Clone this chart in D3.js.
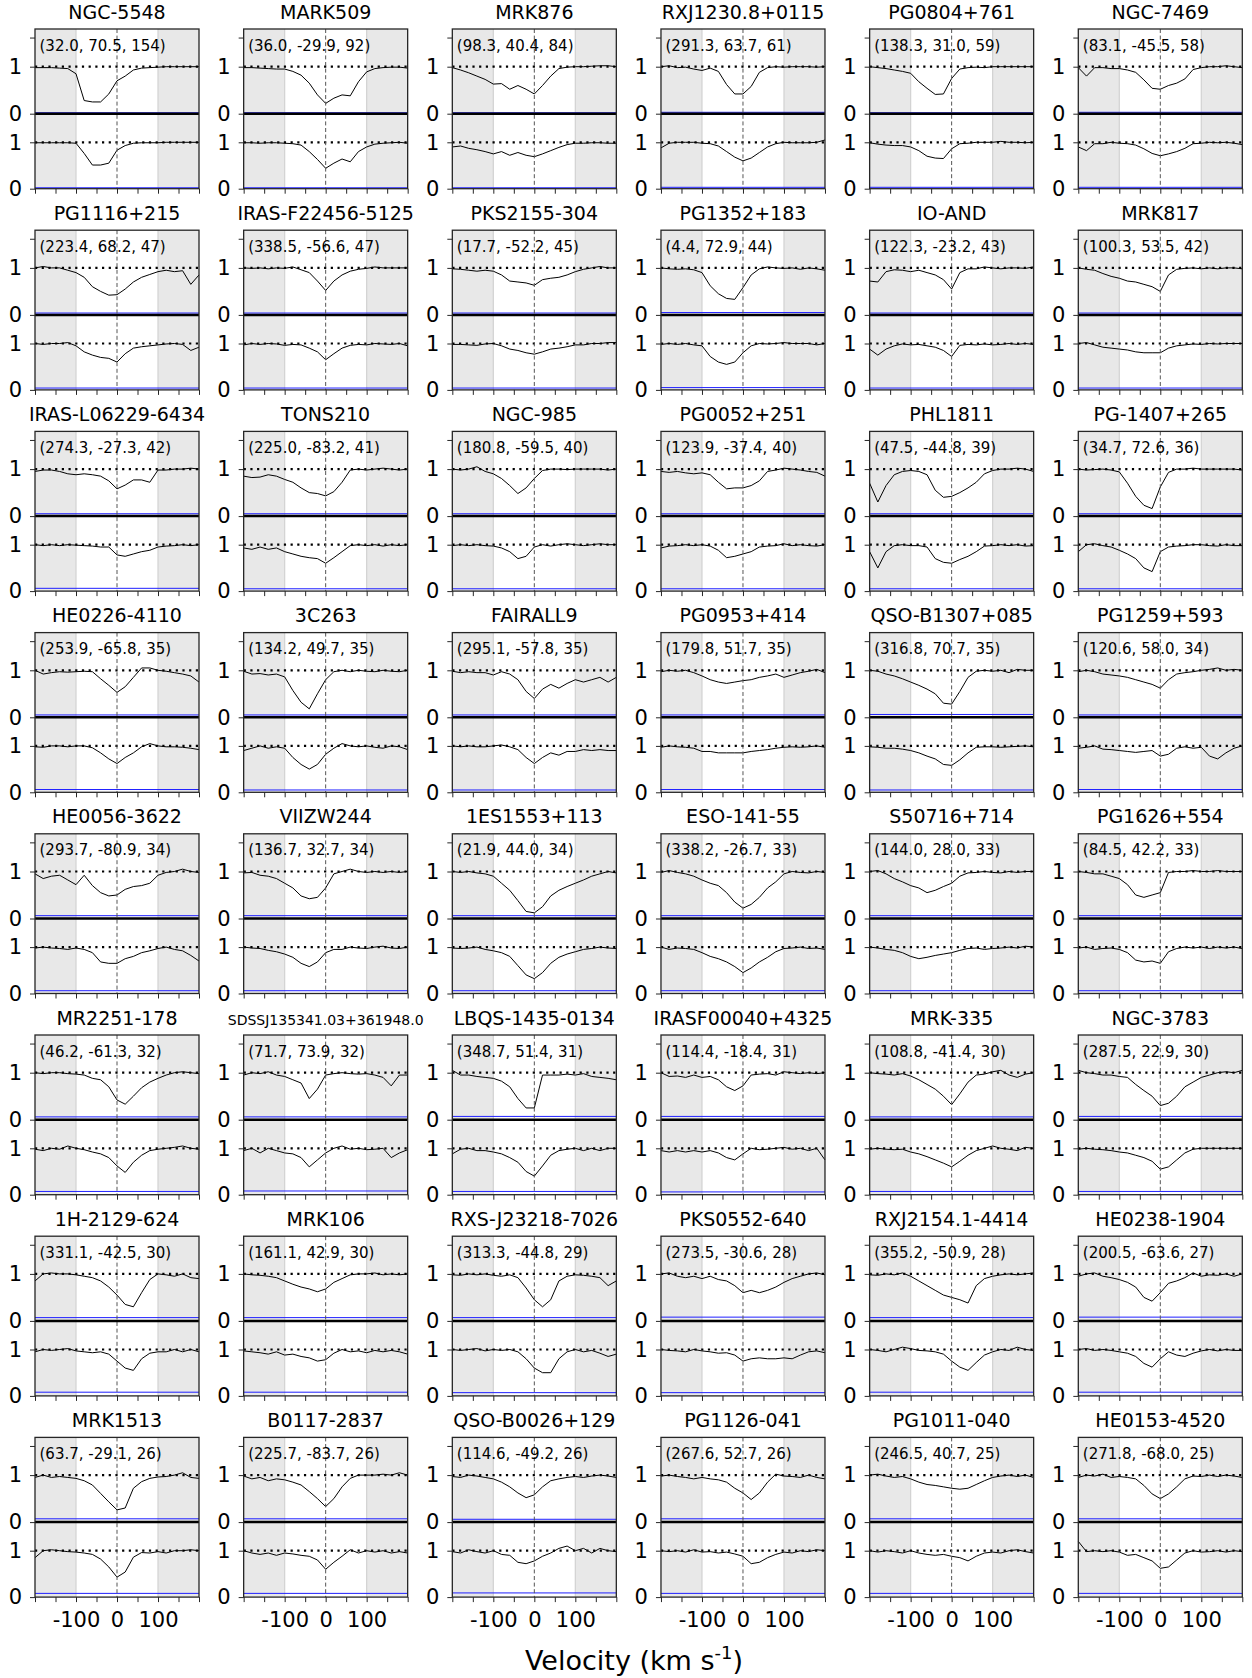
<!DOCTYPE html>
<html>
<head>
<meta charset="utf-8">
<script src="https://cdn.jsdelivr.net/npm/d3@7"></script>
<style>
  body { margin: 0; background: #fff; }
  text { font-family: "DejaVu Sans", sans-serif; }
</style>
</head>
<body>
<svg id="chart" width="1252" height="1678"></svg>
<script>
// velocity grid the profiles were read on (km/s)
const vel = [-200,-180,-160,-140,-120,-100,-80,-60,-40,-20,0,20,40,60,80,100,120,140,160,180,200];
const xTicks = [-200,-150,-100,-50,0,50,100,150,200];
const xLabelled = [-100, 0, 100];

const names = [
  "NGC-5548","MARK509","MRK876","RXJ1230.8+0115","PG0804+761","NGC-7469",
  "PG1116+215","IRAS-F22456-5125","PKS2155-304","PG1352+183","IO-AND","MRK817",
  "IRAS-L06229-6434","TONS210","NGC-985","PG0052+251","PHL1811","PG-1407+265",
  "HE0226-4110","3C263","FAIRALL9","PG0953+414","QSO-B1307+085","PG1259+593",
  "HE0056-3622","VIIZW244","1ES1553+113","ESO-141-55","S50716+714","PG1626+554",
  "MR2251-178","SDSSJ135341.03+361948.0","LBQS-1435-0134","IRASF00040+4325","MRK-335","NGC-3783",
  "1H-2129-624","MRK106","RXS-J23218-7026","PKS0552-640","RXJ2154.1-4414","HE0238-1904",
  "MRK1513","B0117-2837","QSO-B0026+129","PG1126-041","PG1011-040","HE0153-4520"
];
const galL = [32.0,36.0,98.3,291.3,138.3,83.1, 223.4,338.5,17.7,4.4,122.3,100.3,
  274.3,225.0,180.8,123.9,47.5,34.7, 253.9,134.2,295.1,179.8,316.8,120.6,
  293.7,136.7,21.9,338.2,144.0,84.5, 46.2,71.7,348.7,114.4,108.8,287.5,
  331.1,161.1,313.3,273.5,355.2,200.5, 63.7,225.7,114.6,267.6,246.5,271.8];
const galB = [70.5,-29.9,40.4,63.7,31.0,-45.5, 68.2,-56.6,-52.2,72.9,-23.2,53.5,
  -27.3,-83.2,-59.5,-37.4,-44.8,72.6, -65.8,49.7,-57.8,51.7,70.7,58.0,
  -80.9,32.7,44.0,-26.7,28.0,42.2, -61.3,73.9,51.4,-18.4,-41.4,22.9,
  -42.5,42.9,-44.8,-30.6,-50.9,-63.6, -29.1,-83.7,-49.2,52.7,40.7,-68.0];
const nSight = [154,92,84,61,59,58, 47,47,45,44,43,42, 42,41,40,40,39,36, 35,35,35,35,35,34,
  34,34,34,33,33,33, 32,32,31,31,30,30, 30,30,29,28,28,27, 26,26,26,26,25,25];

// normalised flux, upper spectrum of each panel
const fluxUpper = [
  [0.98,0.98,0.98,0.97,0.96,0.85,0.28,0.25,0.25,0.42,0.7,0.8,0.93,0.97,0.98,0.99,1,1,1,1,1],
  [0.98,0.98,0.97,0.96,0.95,0.95,0.9,0.82,0.65,0.4,0.22,0.33,0.4,0.38,0.68,0.89,0.96,0.98,0.99,0.99,0.97],
  [0.98,0.93,0.87,0.8,0.73,0.63,0.64,0.52,0.6,0.52,0.42,0.6,0.8,0.96,0.99,1.0,1.0,1.01,1.02,1.02,1.0],
  [1.0,1.02,0.98,0.99,0.95,0.92,0.97,0.9,0.62,0.42,0.42,0.58,0.88,0.98,1.0,0.99,1.0,1.0,1.0,0.99,1.0],
  [1.0,0.98,0.96,0.93,0.9,0.86,0.68,0.54,0.41,0.42,0.75,0.95,0.98,0.99,0.98,1.0,1.0,1.0,1.0,1.0,1.0],
  [0.98,0.8,0.98,0.98,0.96,0.96,0.93,0.88,0.72,0.54,0.52,0.6,0.65,0.74,0.94,0.98,1.0,1.0,1.02,1.0,0.98],
  [1.0,1.03,1.0,1.0,0.95,0.9,0.8,0.6,0.5,0.42,0.43,0.55,0.7,0.8,0.86,0.92,0.95,0.92,0.94,0.65,0.85],
  [1.0,0.99,1.0,0.98,1.0,0.99,1.02,0.96,0.9,0.72,0.52,0.72,0.85,0.93,0.97,0.99,1.02,1.0,1.0,1.0,1.0],
  [0.98,0.97,0.95,0.93,0.95,0.93,0.85,0.72,0.7,0.68,0.63,0.75,0.78,0.8,0.85,0.92,0.97,1.0,1.03,1.0,1.0],
  [1.0,0.98,0.97,0.98,0.96,0.9,0.62,0.45,0.35,0.33,0.58,0.85,0.98,1.02,1.0,0.99,1.0,0.97,1.0,0.98,0.95],
  [0.72,0.7,0.92,0.96,0.95,0.92,0.95,0.9,0.85,0.75,0.55,0.9,0.98,0.98,1.02,1.0,0.98,1.0,1.0,0.99,1.02],
  [1.0,0.97,0.95,0.88,0.82,0.78,0.72,0.7,0.65,0.6,0.5,0.85,0.97,0.99,1.0,0.98,1.0,0.98,1.0,1.0,0.98],
  [0.95,0.98,0.98,0.95,0.9,0.88,0.9,0.88,0.85,0.75,0.58,0.66,0.77,0.77,0.72,0.98,0.98,1.0,1.0,1.02,1.0],
  [0.85,0.82,0.83,0.88,0.85,0.78,0.72,0.6,0.5,0.48,0.43,0.52,0.72,0.98,1.0,0.98,1.0,1.02,1.0,0.98,1.0],
  [1.0,0.98,1.0,1.05,0.95,0.9,0.8,0.65,0.48,0.6,0.8,0.97,1.0,1.0,0.99,1.0,1.0,1.0,1.0,0.98,1.0],
  [0.95,0.93,0.95,0.92,0.9,0.92,0.88,0.72,0.58,0.6,0.6,0.65,0.75,0.95,0.98,1.02,1.0,0.98,0.95,0.93,0.85],
  [0.7,0.3,0.65,0.88,0.95,0.97,0.95,0.88,0.55,0.4,0.42,0.5,0.6,0.72,0.9,0.97,1.0,1.0,1.02,1.0,0.95],
  [1.0,0.98,0.99,1.0,0.98,0.94,0.7,0.42,0.23,0.16,0.62,0.93,1.0,1.0,1.02,1.0,1.0,1.0,1.0,1.0,0.98],
  [1.0,0.92,0.95,0.97,0.96,0.97,0.98,0.97,0.82,0.68,0.53,0.65,0.85,1.05,1.05,1.0,0.98,0.95,0.92,0.88,0.75],
  [0.98,0.92,0.93,0.9,0.92,0.86,0.57,0.32,0.18,0.5,0.8,0.97,1.0,0.97,1.0,0.98,0.97,1.0,0.98,0.97,1.0],
  [0.98,0.95,0.97,0.95,0.95,0.9,0.97,0.92,0.8,0.55,0.4,0.6,0.7,0.62,0.72,0.8,0.75,0.8,0.85,0.75,0.85],
  [0.97,1.0,0.98,1.0,0.95,0.88,0.8,0.75,0.72,0.75,0.78,0.8,0.85,0.88,0.92,0.85,0.9,0.95,0.98,1.02,0.95],
  [1.0,0.98,0.92,0.88,0.82,0.75,0.68,0.6,0.5,0.3,0.28,0.55,0.85,0.98,1.0,0.98,1.0,0.95,1.02,1.0,1.0],
  [0.97,1.0,0.97,0.92,0.9,0.88,0.85,0.8,0.75,0.7,0.62,0.8,0.92,0.95,0.97,1.0,1.02,1.05,1.0,1.02,1.0],
  [0.95,0.85,0.9,0.92,0.82,0.72,0.92,0.7,0.55,0.48,0.5,0.62,0.68,0.7,0.75,0.92,0.98,1.0,1.05,1.0,0.98],
  [0.97,0.98,0.92,0.9,0.85,0.75,0.65,0.48,0.42,0.45,0.65,0.95,1.0,1.05,1.0,0.98,1.0,0.98,1.0,0.98,1.0],
  [1.0,0.98,1.0,0.97,0.95,0.9,0.75,0.6,0.38,0.15,0.12,0.25,0.48,0.6,0.68,0.75,0.82,0.9,0.95,1.0,0.97],
  [0.98,1.02,0.98,0.95,0.9,0.82,0.75,0.7,0.55,0.35,0.22,0.3,0.45,0.65,0.78,0.95,1.0,0.98,0.97,1.0,0.98],
  [1.0,1.02,0.95,0.85,0.78,0.7,0.65,0.55,0.6,0.68,0.75,0.9,0.97,0.98,1.0,0.98,0.97,1.0,0.98,1.0,1.0],
  [1.0,0.98,0.95,0.95,0.9,0.85,0.72,0.5,0.45,0.5,0.55,0.98,1.0,1.0,1.02,1.0,1.0,1.02,1.0,1.0,1.0],
  [1.0,0.98,1.0,1.0,0.98,0.97,0.95,0.88,0.85,0.7,0.42,0.33,0.5,0.68,0.8,0.88,0.95,1.0,1.02,1.0,0.98],
  [0.95,1.0,0.98,1.02,0.95,0.92,0.85,0.78,0.45,0.65,0.95,0.98,1.0,0.98,0.97,0.98,0.95,0.9,0.72,0.95,0.95],
  [1.05,0.95,0.95,0.92,0.9,0.88,0.82,0.7,0.45,0.25,0.25,0.95,0.95,0.95,0.97,0.95,0.98,0.92,0.9,0.88,0.85],
  [1.0,0.92,0.93,0.9,0.95,0.9,0.92,0.85,0.7,0.62,0.72,0.95,0.97,0.98,0.95,1.02,1.0,0.98,1.0,0.98,1.0],
  [1.0,0.98,0.97,0.95,0.98,0.93,0.85,0.75,0.65,0.5,0.32,0.55,0.8,0.95,0.97,1.02,1.05,0.95,0.9,0.97,1.0],
  [1.05,1.0,0.98,0.95,0.95,0.92,0.9,0.75,0.62,0.5,0.3,0.35,0.5,0.7,0.8,0.9,0.95,1.0,1.02,1.0,1.05],
  [0.85,1.0,1.02,1.0,1.0,0.98,0.95,0.92,0.85,0.72,0.55,0.35,0.3,0.6,0.88,1.0,0.98,0.95,1.0,0.92,0.9],
  [1.0,0.98,0.97,0.95,0.92,0.85,0.78,0.72,0.68,0.62,0.68,0.82,0.9,0.98,1.0,1.0,1.02,0.98,1.0,0.98,1.0],
  [0.98,0.97,1.0,0.98,1.0,0.97,0.95,0.98,0.92,0.7,0.45,0.3,0.45,0.85,0.95,0.98,0.97,0.95,0.92,0.75,0.85],
  [1.0,1.02,0.95,0.92,0.95,0.9,0.95,0.88,0.85,0.75,0.6,0.65,0.6,0.65,0.72,0.82,0.9,0.95,1.0,1.02,0.98],
  [0.98,0.97,1.0,0.98,1.02,0.95,0.85,0.75,0.65,0.55,0.5,0.45,0.38,0.75,0.9,0.95,0.98,1.0,0.98,1.0,1.02],
  [0.95,1.0,1.02,0.95,0.92,0.88,0.82,0.72,0.5,0.42,0.6,0.8,0.85,0.92,1.02,0.95,0.98,0.97,1.0,0.95,1.0],
  [0.95,1.0,0.95,0.97,0.95,0.93,0.88,0.79,0.61,0.43,0.26,0.3,0.72,0.86,0.93,0.96,0.97,1.0,1.05,0.95,0.93],
  [0.98,0.92,0.95,0.88,0.92,0.9,0.85,0.79,0.65,0.5,0.33,0.5,0.75,0.93,1.0,1.0,1.0,1.02,1.0,1.05,1.0],
  [0.97,0.95,1.0,0.98,0.95,0.92,0.85,0.75,0.62,0.52,0.58,0.75,0.88,0.92,0.95,0.97,0.95,0.98,1.0,0.98,0.95],
  [0.98,1.0,0.97,0.95,0.92,0.95,0.92,0.9,0.85,0.72,0.62,0.48,0.62,0.85,1.02,0.98,0.97,0.95,1.0,0.95,0.92],
  [1.0,1.02,0.98,0.95,0.97,0.92,0.85,0.8,0.78,0.75,0.72,0.7,0.72,0.8,0.88,0.95,0.98,1.0,0.97,1.0,0.95],
  [0.95,1.0,0.98,1.02,0.95,0.97,0.95,0.92,0.78,0.6,0.5,0.6,0.75,0.92,0.98,0.97,1.0,0.97,1.0,0.98,0.95]
];

// normalised flux, lower spectrum of each panel
const fluxLower = [
  [0.99,0.99,0.99,0.99,0.99,0.98,0.76,0.51,0.51,0.55,0.83,0.93,0.98,0.99,0.99,0.99,1,1,1,1,1],
  [0.99,0.99,0.98,0.99,0.99,0.98,0.97,0.94,0.8,0.63,0.44,0.55,0.64,0.58,0.8,0.9,0.96,0.98,0.99,1.0,0.98],
  [0.9,0.92,0.87,0.84,0.8,0.75,0.8,0.72,0.78,0.72,0.69,0.75,0.82,0.89,0.95,0.98,0.98,0.99,0.99,0.98,0.98],
  [0.88,0.98,1.0,1.0,1.0,0.98,0.97,0.92,0.8,0.68,0.6,0.66,0.78,0.9,0.97,1.0,0.99,0.99,0.99,1.0,1.05],
  [0.99,0.96,0.94,0.93,0.93,0.9,0.82,0.7,0.66,0.65,0.86,0.97,0.98,1.0,1.0,1.0,1.02,1.0,1.0,0.99,1.0],
  [0.9,0.82,0.97,0.97,1.0,0.98,0.97,0.94,0.86,0.76,0.71,0.75,0.8,0.87,0.97,0.98,1.0,0.99,1.0,0.98,0.95],
  [1.0,0.98,1.0,1.0,1.02,0.95,0.82,0.75,0.7,0.68,0.6,0.78,0.9,0.93,0.95,0.97,0.99,1.0,0.98,0.85,0.92],
  [0.97,1.0,0.98,1.0,0.99,0.96,0.98,0.97,0.9,0.82,0.65,0.78,0.9,0.96,0.98,0.97,1.0,0.99,0.98,1.0,0.95],
  [0.98,0.98,0.97,0.96,0.99,1.0,0.95,0.88,0.85,0.8,0.77,0.82,0.88,0.9,0.93,0.97,0.97,1.0,1.0,1.02,1.02],
  [0.98,1.0,0.98,1.0,0.97,0.95,0.72,0.6,0.55,0.6,0.8,0.95,1.0,0.99,1.0,1.02,1.0,1.0,1.0,0.97,1.0],
  [0.88,0.75,0.88,0.95,0.99,0.97,0.98,0.95,0.92,0.85,0.72,0.96,0.98,0.97,0.99,0.97,0.98,1.0,0.98,1.0,0.98],
  [1.0,1.02,0.97,0.92,0.9,0.88,0.86,0.82,0.8,0.8,0.8,0.9,0.95,0.97,0.99,0.98,1.0,0.99,1.0,1.0,1.0],
  [1.0,0.98,1.0,0.98,1.0,0.99,0.98,0.97,0.95,0.95,0.78,0.75,0.8,0.85,0.88,0.95,0.97,0.98,1.0,0.98,1.0],
  [0.93,0.9,0.95,0.9,0.93,0.85,0.8,0.75,0.72,0.7,0.6,0.72,0.85,0.98,1.0,0.98,1.0,0.97,1.0,0.98,1.0],
  [0.98,1.0,0.98,1.0,0.98,0.97,0.93,0.85,0.7,0.75,0.95,1.0,0.97,1.0,1.02,1.0,0.98,1.0,1.02,1.0,1.0],
  [0.93,0.97,0.98,1.0,0.98,1.0,0.97,0.88,0.72,0.75,0.8,0.85,0.95,0.97,0.98,1.02,0.98,1.0,0.98,0.97,1.0],
  [0.85,0.5,0.85,0.98,1.0,0.98,0.98,0.95,0.7,0.62,0.6,0.68,0.75,0.85,0.97,0.98,1.0,0.98,1.0,0.97,0.98],
  [0.85,1.0,1.02,0.98,0.95,0.88,0.8,0.7,0.5,0.42,0.85,0.95,0.97,0.98,1.0,1.0,0.98,0.97,1.0,0.98,0.98],
  [0.98,0.97,1.0,1.0,0.98,1.0,1.0,0.96,0.85,0.72,0.62,0.75,0.85,0.98,1.05,1.0,0.98,0.98,0.97,0.95,0.92],
  [0.9,0.95,1.0,0.95,0.98,0.95,0.75,0.6,0.5,0.6,0.82,0.95,1.05,1.0,0.98,1.0,0.97,0.95,1.0,0.98,0.92],
  [1.0,0.98,1.0,0.98,0.98,1.0,1.02,0.98,0.92,0.75,0.62,0.75,0.85,0.8,0.88,0.88,0.92,0.9,0.92,0.9,0.9],
  [0.97,1.0,0.98,0.97,0.95,0.88,0.88,0.85,0.85,0.85,0.85,0.88,0.9,0.92,0.95,0.97,0.98,0.97,0.98,1.0,0.97],
  [0.98,0.97,0.95,0.95,0.93,0.9,0.85,0.78,0.72,0.6,0.58,0.7,0.85,0.97,0.98,0.98,0.97,0.98,0.99,1.0,0.98],
  [0.95,0.97,1.0,0.93,0.92,0.9,0.88,0.86,0.88,0.9,0.78,0.82,0.95,0.98,0.95,0.97,0.78,0.72,0.85,0.95,1.0],
  [0.98,1.0,0.98,0.97,0.95,0.98,0.95,0.88,0.68,0.65,0.65,0.75,0.8,0.88,0.92,0.97,1.0,0.95,0.92,0.82,0.7],
  [1.0,0.98,0.97,0.93,0.9,0.85,0.78,0.65,0.58,0.68,0.88,0.95,0.95,1.0,0.98,0.97,1.0,1.02,0.98,0.97,1.0],
  [0.98,0.97,0.98,1.0,0.95,0.92,0.88,0.8,0.6,0.4,0.32,0.45,0.65,0.78,0.85,0.9,0.95,0.97,1.0,0.98,0.97],
  [1.0,0.95,0.98,0.97,0.95,0.88,0.8,0.75,0.68,0.58,0.45,0.55,0.68,0.78,0.9,0.97,0.98,1.0,0.97,0.98,0.95],
  [1.0,0.98,0.95,0.93,0.88,0.8,0.75,0.78,0.82,0.85,0.88,0.93,0.97,0.98,0.95,0.97,0.98,1.0,0.98,1.02,1.0],
  [0.98,1.0,0.95,0.97,0.98,0.95,0.88,0.72,0.68,0.7,0.65,0.9,0.97,1.0,0.98,1.0,0.97,1.0,0.98,1.0,0.97],
  [0.98,0.95,1.0,0.98,1.05,1.0,0.97,0.92,0.88,0.8,0.62,0.48,0.7,0.85,0.95,0.98,1.0,1.02,1.05,1.0,0.98],
  [0.95,1.0,0.9,1.0,0.95,0.9,0.88,0.8,0.6,0.75,0.9,1.0,1.05,0.98,1.0,0.97,0.98,1.0,0.8,0.9,0.97],
  [0.88,0.98,1.0,0.95,0.95,0.92,0.88,0.8,0.7,0.5,0.4,0.62,0.85,0.95,0.98,1.0,0.95,1.0,0.95,1.0,1.0],
  [0.95,0.92,0.95,0.92,0.95,0.92,0.95,0.9,0.8,0.75,0.88,1.0,0.97,0.98,1.0,1.02,0.98,1.0,0.95,1.0,0.75],
  [0.98,1.0,0.98,0.97,0.98,0.92,0.88,0.82,0.75,0.68,0.6,0.72,0.85,0.95,1.0,1.05,1.0,0.98,0.95,1.02,1.0],
  [0.98,1.0,0.98,0.97,0.95,0.92,0.9,0.85,0.8,0.72,0.55,0.6,0.75,0.9,0.98,1.0,1.0,1.0,1.0,1.0,1.0],
  [0.95,1.0,0.98,1.0,1.02,0.97,0.95,0.93,0.95,0.9,0.75,0.6,0.55,0.8,0.92,0.95,0.95,1.0,0.95,1.0,0.95],
  [0.97,0.95,0.93,0.9,0.95,0.88,0.9,0.85,0.82,0.75,0.78,0.92,1.0,0.95,0.97,0.93,0.98,0.95,0.98,0.95,0.9],
  [1.0,0.98,1.0,1.02,0.97,1.0,0.98,1.0,0.95,0.8,0.6,0.5,0.5,0.8,0.95,1.0,0.95,0.98,0.92,0.85,0.9],
  [1.0,0.98,0.97,0.95,1.0,0.97,0.95,0.92,0.93,0.88,0.75,0.8,0.82,0.8,0.8,0.82,0.8,0.88,0.95,0.97,0.93],
  [1.0,0.98,0.95,1.0,1.05,1.02,0.98,0.97,0.95,0.9,0.75,0.62,0.55,0.72,0.88,0.95,1.0,0.98,1.05,1.0,0.98],
  [1.0,1.02,0.98,1.0,0.98,0.95,0.92,0.85,0.7,0.62,0.8,0.95,0.88,0.85,0.92,0.97,1.0,0.97,1.0,0.98,0.98],
  [0.85,1.0,1.02,1.0,0.98,0.97,0.95,0.92,0.82,0.65,0.43,0.54,0.86,0.96,0.95,0.98,0.95,1.0,1.0,1.02,1.0],
  [1.0,0.95,0.92,0.95,0.9,0.95,0.93,0.9,0.88,0.8,0.6,0.75,0.88,1.02,0.95,1.0,0.97,1.0,0.95,0.98,0.95],
  [0.98,0.95,1.02,0.98,0.95,1.0,0.92,0.9,0.75,0.72,0.78,0.88,0.95,1.05,1.1,1.0,1.05,0.95,1.05,1.0,0.98],
  [1.0,0.98,1.0,0.97,1.02,0.97,0.98,0.95,0.97,0.93,0.88,0.72,0.75,0.85,0.92,0.97,0.95,1.0,0.98,1.02,1.0],
  [1.0,0.97,1.0,0.98,0.95,1.0,0.95,0.92,0.9,0.92,0.88,0.85,0.78,0.88,0.95,0.97,0.95,1.0,1.02,0.98,0.95],
  [1.2,0.98,1.0,0.98,1.0,0.97,0.9,0.92,0.85,0.78,0.62,0.65,0.8,0.95,1.0,0.97,0.98,1.0,0.97,1.0,0.98]
];

// error-spectrum level (blue) for upper and lower spectra
const errUpper = [0.02,0.02,0.02,0.03,0.02,0.03, 0.04,0.04,0.04,0.05,0.04,0.04,
  0.05,0.05,0.05,0.05,0.05,0.05, 0.05,0.05,0.05,0.05,0.06,0.05,
  0.06,0.06,0.06,0.06,0.06,0.06, 0.06,0.06,0.07,0.07,0.06,0.07,
  0.07,0.07,0.07,0.08,0.07,0.08, 0.07,0.07,0.06,0.07,0.07,0.07];
const errLower = [0.02,0.02,0.02,0.03,0.03,0.03, 0.04,0.04,0.04,0.05,0.04,0.04,
  0.06,0.05,0.05,0.05,0.05,0.05, 0.06,0.05,0.05,0.06,0.05,0.06,
  0.06,0.06,0.06,0.06,0.06,0.06, 0.07,0.08,0.07,0.06,0.07,0.07,
  0.08,0.08,0.07,0.07,0.08,0.08, 0.08,0.08,0.09,0.08,0.08,0.08];

// layout
const nCols = 6;
const left0 = 35, colStep = 208.66, panelW = 164;
const top0 = 29, rowStep = 201.2, panelH = 159.7, splitY = 84.7;

const svg = d3.select("#chart");

const x = d3.scaleLinear().domain([-200, 200]).range([0, panelW]);
const yUp = d3.scaleLinear().domain([0, 1]).range([splitY, 37.7]);
const yLo = d3.scaleLinear().domain([0, 1]).range([panelH, panelH - 46.4]);

const lineUp = d3.line().x((d, j) => x(vel[j])).y(d => yUp(d));
const lineLo = d3.line().x((d, j) => x(vel[j])).y(d => yLo(d));

function styleAxis(a, size) {
  a.select(".domain").remove();
  a.selectAll("line").attr("stroke", "#262626");
  a.selectAll("text")
    .attr("font-size", size).attr("fill", "black")
    .attr("font-family", "DejaVu Sans");
}

names.forEach((name, i) => {
  const r = Math.floor(i / nCols), c = i % nCols;
  const g = svg.append("g")
    .attr("transform", `translate(${left0 + c * colStep},${top0 + r * rowStep})`);

  // grey bands outside +-100 km/s
  g.selectAll("rect.band")
    .data([[-200, -100], [100, 200]])
    .join("rect")
    .attr("x", d => x(d[0]))
    .attr("width", d => x(d[1]) - x(d[0]))
    .attr("y", 0)
    .attr("height", panelH)
    .attr("fill", "#e8e8e8");
  g.selectAll("line.edge")
    .data([-100, 100])
    .join("line")
    .attr("x1", d => x(d)).attr("x2", d => x(d))
    .attr("y1", 0).attr("y2", panelH)
    .attr("stroke", "#d2d2d2")
    .attr("stroke-width", 1.2);

  // spectra
  g.append("path").datum(fluxUpper[i])
    .attr("d", lineUp)
    .attr("fill", "none").attr("stroke", "black").attr("stroke-width", 1);
  g.append("path").datum(fluxLower[i])
    .attr("d", lineLo)
    .attr("fill", "none").attr("stroke", "black").attr("stroke-width", 1);

  // error spectra
  g.append("line")
    .attr("x1", x(-200)).attr("x2", x(200))
    .attr("y1", yUp(errUpper[i])).attr("y2", yUp(errUpper[i]))
    .attr("stroke", "#1f1fff").attr("stroke-width", 1);
  g.append("line")
    .attr("x1", x(-200)).attr("x2", x(200))
    .attr("y1", yLo(errLower[i])).attr("y2", yLo(errLower[i]))
    .attr("stroke", "#1f1fff").attr("stroke-width", 1);

  // continuum level
  [yUp(1), yLo(1)].forEach(yy => {
    g.append("line")
      .attr("x1", 0).attr("x2", panelW)
      .attr("y1", yy).attr("y2", yy)
      .attr("stroke", "black").attr("stroke-width", 2.2)
      .attr("stroke-dasharray", "2.2,4.5");
  });

  // zero velocity
  g.append("line")
    .attr("x1", x(0)).attr("x2", x(0))
    .attr("y1", 0).attr("y2", panelH)
    .attr("stroke", "#555").attr("stroke-width", 1)
    .attr("stroke-dasharray", "4,2.6");

  // divider between the two spectra
  g.append("line")
    .attr("x1", 0).attr("x2", panelW)
    .attr("y1", yUp(0)).attr("y2", yUp(0))
    .attr("stroke", "black").attr("stroke-width", 2.5);

  // frame
  g.append("rect")
    .attr("width", panelW).attr("height", panelH)
    .attr("fill", "none").attr("stroke", "#262626").attr("stroke-width", 1.3);

  // axes
  const xAxis = d3.axisBottom(x)
    .tickValues(xTicks)
    .tickSize(5)
    .tickPadding(10)
    .tickFormat(v => (r === 7 && xLabelled.includes(v)) ? String(v) : "");
  g.append("g")
    .attr("transform", `translate(0,${panelH})`)
    .call(xAxis)
    .call(a => styleAxis(a, 21));

  const yAxisUp = d3.axisLeft(yUp)
    .tickValues([0, 1, 1.62])
    .tickSize(5)
    .tickPadding(8)
    .tickFormat(v => v === 1.62 ? "" : String(v));
  g.append("g").call(yAxisUp).call(a => styleAxis(a, 21));

  const yAxisLo = d3.axisLeft(yLo)
    .tickValues([0, 1])
    .tickSize(5)
    .tickPadding(8)
    .tickFormat(v => String(v));
  g.append("g").call(yAxisLo).call(a => styleAxis(a, 21));

  // title and sight-line info
  g.append("text")
    .attr("x", panelW / 2).attr("y", -10.5)
    .attr("text-anchor", "middle")
    .attr("font-size", name.length > 20 ? 14 : 19)
    .text(name);
  g.append("text")
    .attr("x", 4.5).attr("y", 21.6)
    .attr("font-size", 15)
    .text(`(${galL[i].toFixed(1)}, ${galB[i].toFixed(1)}, ${nSight[i]})`);
});

// shared x label
const xl = svg.append("text")
  .attr("x", 634).attr("y", 1670)
  .attr("text-anchor", "middle")
  .attr("font-size", 27);
xl.append("tspan").text("Velocity (km s");
xl.append("tspan").attr("dy", -11).attr("font-size", 18).text("-1");
xl.append("tspan").attr("dy", 11).text(")");
</script>
</body>
</html>
